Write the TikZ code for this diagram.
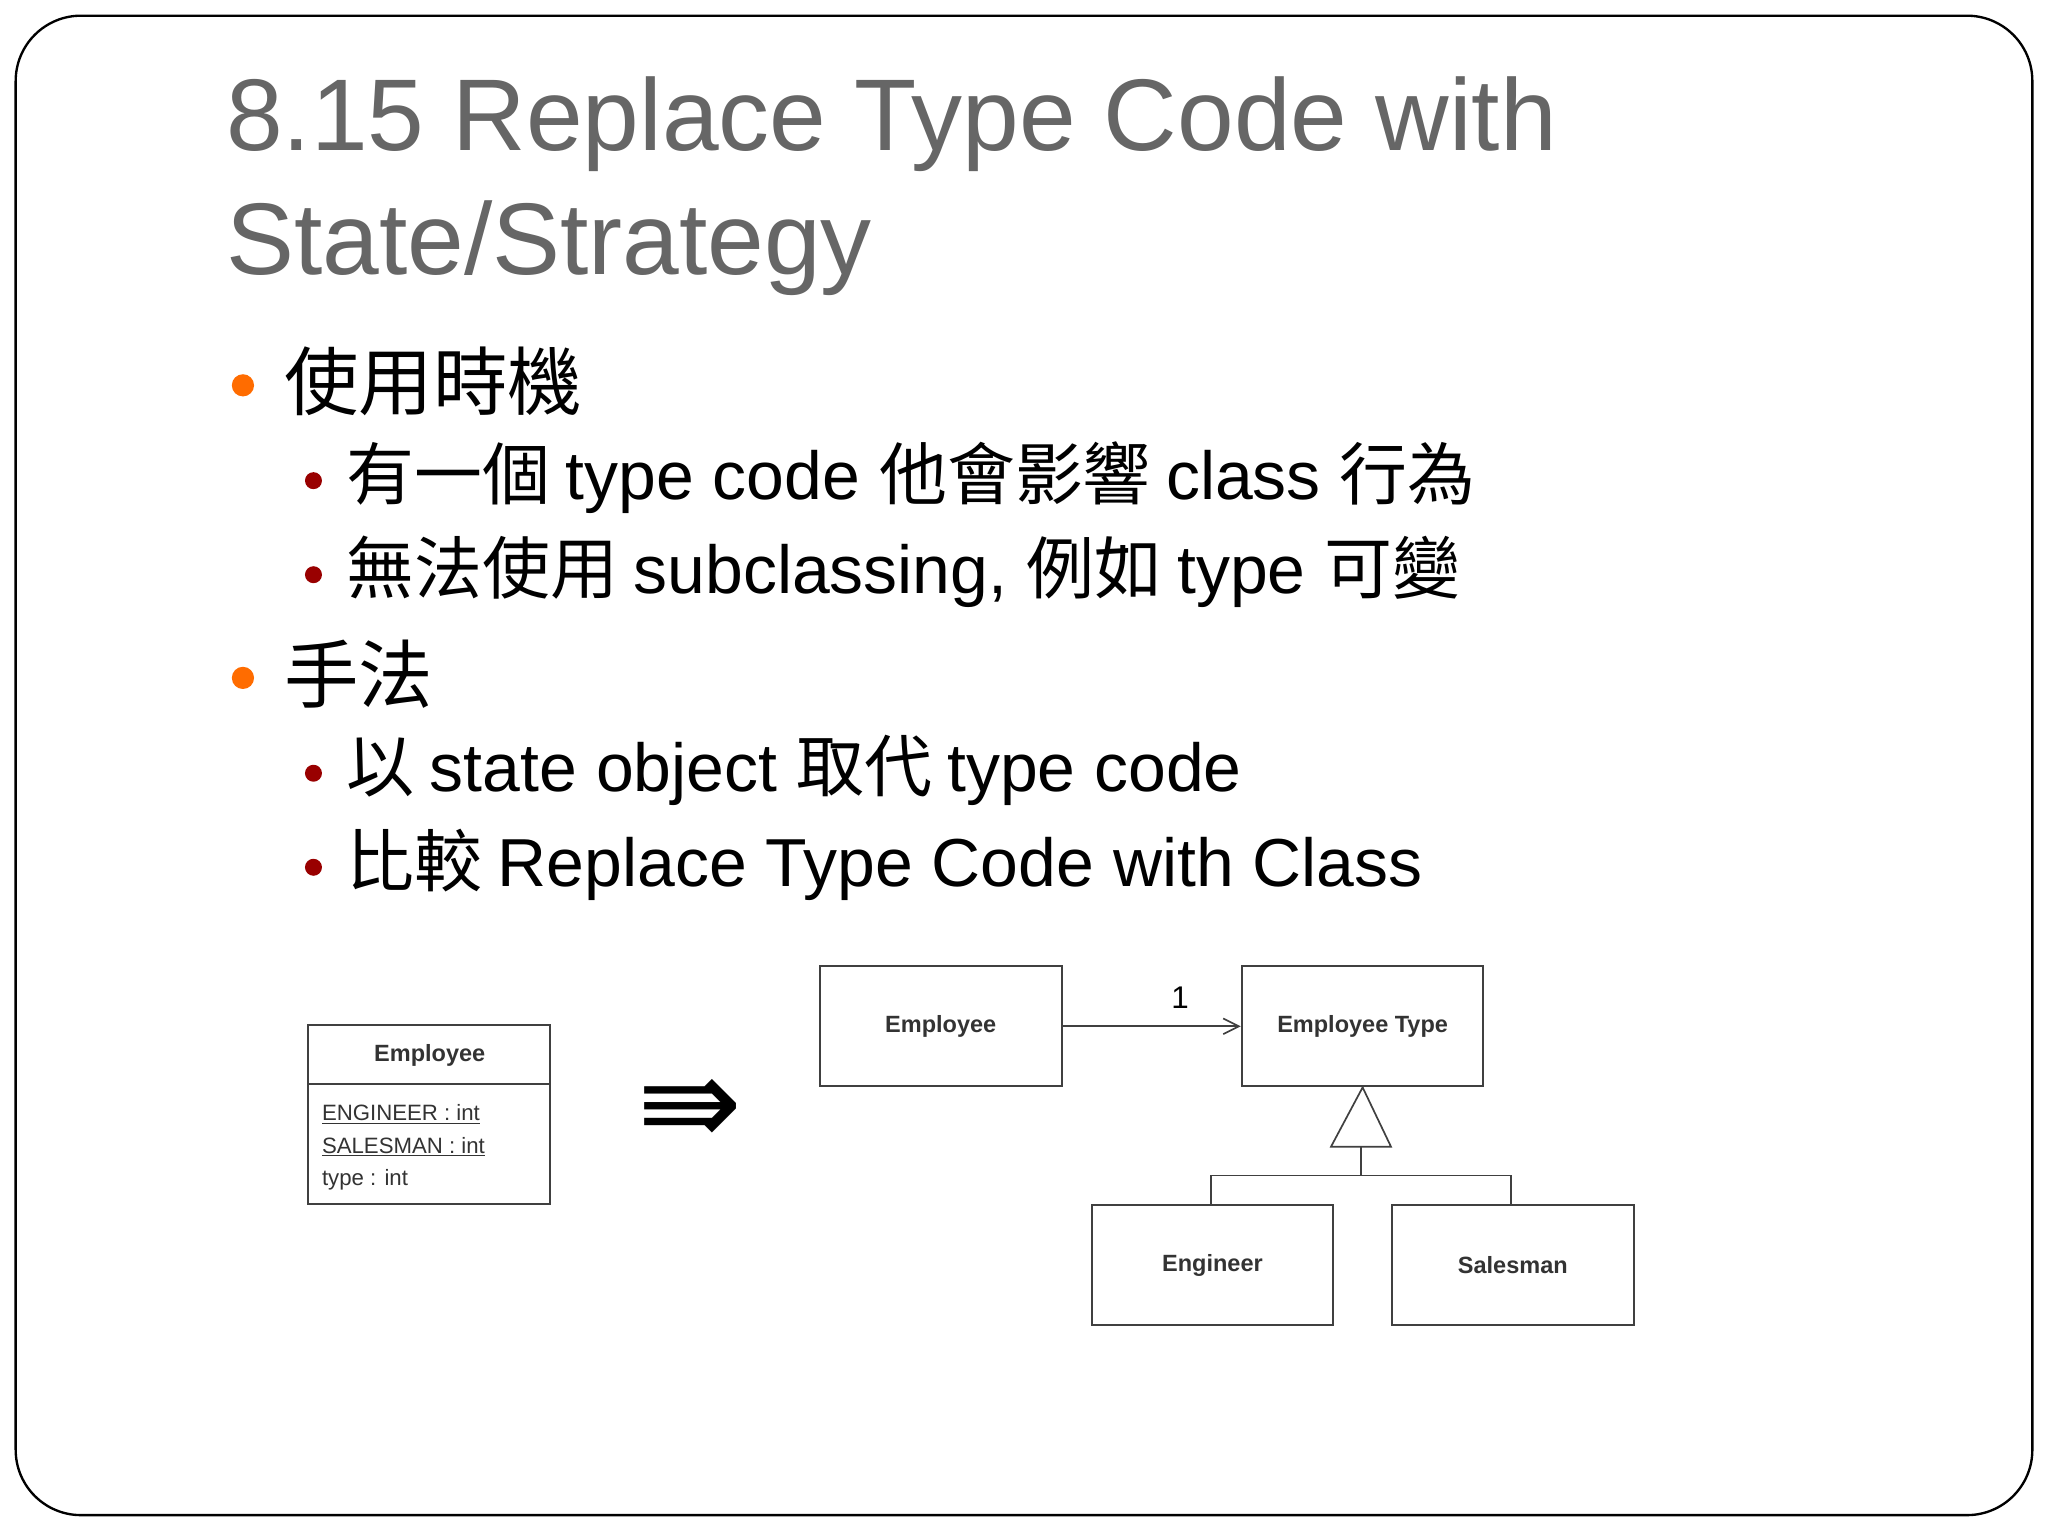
\documentclass[tikz,border=0pt]{standalone}
\usepackage{fontspec}
\setmainfont{Liberation Sans}
\newfontfamily\cjk{Noto Sans CJK TC}
\newfontfamily\sym{DejaVu Sans}
\usetikzlibrary{arrows.meta}
\begin{document}
\begin{tikzpicture}[x=1pt,y=-1pt,
  box/.style={draw=black!75,line width=1.5pt,minimum width=185pt,minimum height=92pt,anchor=north west,inner sep=0pt},
  lbl/.style={font=\fontsize{18}{20}\selectfont\bfseries,text=black!80},
  dotA/.style={circle,fill=orange!85!red,inner sep=0pt,minimum size=17pt},
  dotB/.style={circle,fill=red!60!black,inner sep=0pt,minimum size=13pt},
  lone/.style={anchor=west,font=\fontsize{57}{64}\selectfont},
  ltwo/.style={anchor=west,font=\fontsize{52}{60}\selectfont}]
\useasboundingbox (0,0) rectangle (1568,1176);
\fill[white] (0,0) rectangle (1568,1176);
\draw[line width=1.8pt,rounded corners=50pt] (12,12) rectangle (1556,1160);
\node[anchor=base west,text=black!60,font=\fontsize{78}{90}\selectfont,inner sep=0pt] (t1) at (173,115) {8.15 Replace Type Code with};
\node[anchor=base west,text=black!60,font=\fontsize{78}{90}\selectfont,inner sep=0pt] (t2) at (173,210) {State/Strategy};
\node[dotA] (d1) at (186,295) {};
\node[lone] (b1) at (214,292) {\cjk 使用時機};
\node[dotB] (d2) at (240,368) {};
\node[ltwo] (b2) at (262,366) {\cjk 有一個 \rmfamily type code \cjk 他會影響 \rmfamily class \cjk 行為};
\node[dotB] (d3) at (240,440) {};
\node[ltwo] (b3) at (262,438) {\cjk 無法使用 \rmfamily subclassing, \cjk 例如 \rmfamily type \cjk 可變};
\node[dotA] (d4) at (186,519) {};
\node[lone] (b4) at (214,516) {\cjk 手法};
\node[dotB] (d5) at (240,592) {};
\node[ltwo] (b5) at (262,590) {\cjk 以 \rmfamily state object \cjk 取代 \rmfamily type code};
\node[dotB] (d6) at (240,664) {};
\node[ltwo] (b6) at (262,662) {\cjk 比較 \rmfamily Replace Type Code with Class};
% left class
\draw[black!75,line width=1.5pt] (236,785) rectangle (421,922);
\draw[black!75,line width=1.5pt] (236,830) -- (421,830);
\node[lbl] (le) at (329,808) {Employee};
\node[anchor=west,font=\fontsize{17}{19}\selectfont,text=black!80] (a1) at (243,853) {\underline{ENGINEER : int}};
\node[anchor=west,font=\fontsize{17}{19}\selectfont,text=black!80] (a2) at (243,878) {\underline{SALESMAN : int}};
\node[anchor=west,font=\fontsize{17}{19}\selectfont,text=black!80] (a3) at (243,903) {type : int};
\node[font=\sym\fontsize{96}{96}\selectfont] (arr) at (528,852) {⇛};
% right
\node[box] (emp) at (627,739) {}; \node[lbl] at (emp.center) {Employee};
\node[box] (et) at (950,739) {}; \node[lbl] at (et.center) {Employee Type};
\node[box] (eng) at (835,922) {}; \node[lbl] at (eng.center) {Engineer};
\node[box] (sal) at (1065,922) {}; \node[lbl] at (sal.center) {Salesman};
\draw[black!75,line width=1.3pt,-{Straight Barb[open,length=12pt,width=12pt]}] (emp.east) -- node[pos=0.66,above=10pt,font=\fontsize{24}{26}\selectfont,text=black] {1} (et.west);
\coordinate (tb) at (1042,878);
\coordinate (hl) at (927,900);
\coordinate (hr) at (1157,900);
\draw[black!75,line width=1.3pt] (et.south) -- (1065,878) -- (1019,878) -- cycle;
\draw[black!75,line width=1.3pt] (tb) -- (1042,900);
\draw[black!75,line width=1.3pt] (eng.north -| hl) -- (hl) -- (hr) -- (sal.north -| hr);
\end{tikzpicture}
\end{document}
